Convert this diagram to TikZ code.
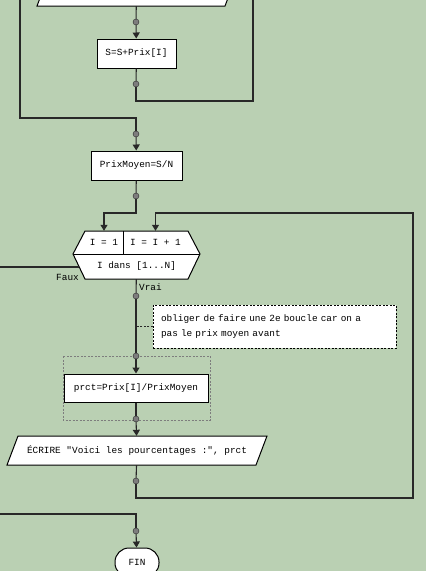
\documentclass[tikz,border=0pt]{standalone}
\usepackage{fontspec}
\setmonofont{Liberation Mono}
\usetikzlibrary{arrows.meta}
\definecolor{chartbg}{RGB}{186,208,179}
\definecolor{dotgrey}{RGB}{125,125,125}
\definecolor{wire}{RGB}{40,40,40}
\tikzset{
  chart-font/.style={font=\ttfamily\fontsize{9.4}{11}\selectfont},
  flow/.style={draw=wire, line width=1.1pt},
  flow-arrow/.style={flow, -{Triangle[length=6pt,width=7pt]}},
  note-link/.style={draw=wire, line width=0.9pt, dash pattern=on 2pt off 1.5pt},
  box-action/.style={chart-font, draw=black, line width=1pt, fill=white,
    minimum height=29pt, inner sep=0pt},
  box-end/.style={box-action, rounded corners=14pt, minimum width=44pt},
  frame-line/.style={draw=black, line width=1pt, fill=white},
  cell/.style={chart-font, inner sep=0pt, minimum height=23pt},
  note-box/.style={draw=black, line width=0.9pt, fill=white,
    dash pattern=on 2pt off 1.5pt, align=left, text width=227pt,
    inner xsep=8pt, minimum height=43pt,
    font=\ttfamily\fontsize{9.4}{15}\selectfont},
  group-box/.style={draw=dotgrey, line width=0.9pt, dash pattern=on 2pt off 1.5pt},
  node-dot/.style={circle, fill=dotgrey, draw=wire, line width=0.4pt,
    minimum size=6pt, inner sep=0pt},
  tag/.style={chart-font, inner sep=0pt}
}
\newcommand{\chartframe}{
  \useasboundingbox (0,0) rectangle (426,571);
  \fill[chartbg] (0,0) rectangle (426,571);
}

\begin{document}
\begin{tikzpicture}[x=1pt,y=-1pt]
  \chartframe

  % dashed group round the loop body
  \draw[group-box] (63,356) rectangle (210,420);

  % reading block, cut by the frame
  \draw[frame-line] (37,6) -- (225,6) -- (236,-23) -- (48,-23) -- cycle;
  \node[cell, minimum height=29pt] (lire) at (136.5,-8.5) {};

  \node[box-action, minimum width=79pt] (somme) at (136.5,53.5) {S=S+Prix[I]};
  \node[box-action, minimum width=91pt] (moyen) at (136.5,165.5) {PrixMoyen=S/N};

  % loop header
  \draw[frame-line] (85,231) -- (188,231) -- (200,254) -- (188,279)
    -- (85,279) -- (73,254) -- cycle;
  \draw[frame-line] (73,254) -- (200,254);
  \draw[frame-line] (123,231) -- (123,254);
  \node[cell, minimum width=38pt] (init) at (104,242.5) {I = 1};
  \node[cell, minimum width=65pt] (incr) at (155.5,242.5) {I = I + 1};
  \node[cell, minimum width=103pt, minimum height=25pt] (cond) at (136.5,266.5) {I dans [1...N]};

  \node[note-box] (note) at (274.5,326.5)
    {obliger de faire une 2e boucle car on a\\pas le prix moyen avant};
  \node[box-action, minimum width=144pt, minimum height=28pt] (prct) at (136,388)
    {prct=Prix[I]/PrixMoyen};

  % writing block
  \draw[frame-line] (7,465) -- (256,465) -- (267,436) -- (18,436) -- cycle;
  \node[cell, minimum height=29pt] (ecrire) at (137,450.5)
    {ÉCRIRE "Voici les pourcentages :", prct};

  \node[box-end] (fin) at (137,562.5) {FIN};

  % junction dots
  \foreach \name/\y in {d1/22,d2/84,d3/134,d4/196,d5/296,d6/356,d7/419,d8/481,d9/531}{
    \node[node-dot] (\name) at (136,\y) {};
  }

  % free ends and corners
  \coordinate (loopL) at (20,-2);
  \coordinate (loopR) at (253,-2);
  \coordinate (join1) at (136,118);
  \coordinate (back) at (413,213);
  \coordinate (faux) at (79,267);
  \coordinate (exitL) at (-2,267);
  \coordinate (entryL) at (-2,514);

  % connectors
  \draw[flow] (lire) -- (d1);
  \draw[flow-arrow] (d1) -- (somme);
  \draw[flow] (somme) -- (d2);
  \draw[flow] (d2) -- ++(0,17) -| (loopR);
  \draw[flow] (loopL) |- (join1) -- (d3);
  \draw[flow-arrow] (d3) -- (moyen);
  \draw[flow] (moyen) -- (d4);
  \draw[flow-arrow] (d4) -- ++(0,17) -| (init);
  \draw[flow] (faux) -- (exitL);
  \draw[flow] (cond) -- (d5);
  \draw[flow] (d5) -- (d6);
  \draw[note-link] (note.west) -- (note.west -| d5);
  \draw[flow-arrow] (d6) -- (prct);
  \draw[flow] (prct) -- (d7);
  \draw[flow-arrow] (d7) -- (ecrire);
  \draw[flow] (ecrire) -- (d8);
  \draw[flow-arrow] (d8) -- ++(0,17) -| (back) -| (incr);
  \draw[flow] (entryL) -| (d9);
  \draw[flow-arrow] (d9) -- (fin);

  % branch labels
  \node[tag, anchor=east] (faux-tag) at (79,277) {Faux};
  \node[tag, anchor=west] (vrai-tag) at (139,287) {Vrai};

\end{tikzpicture}
\end{document}
